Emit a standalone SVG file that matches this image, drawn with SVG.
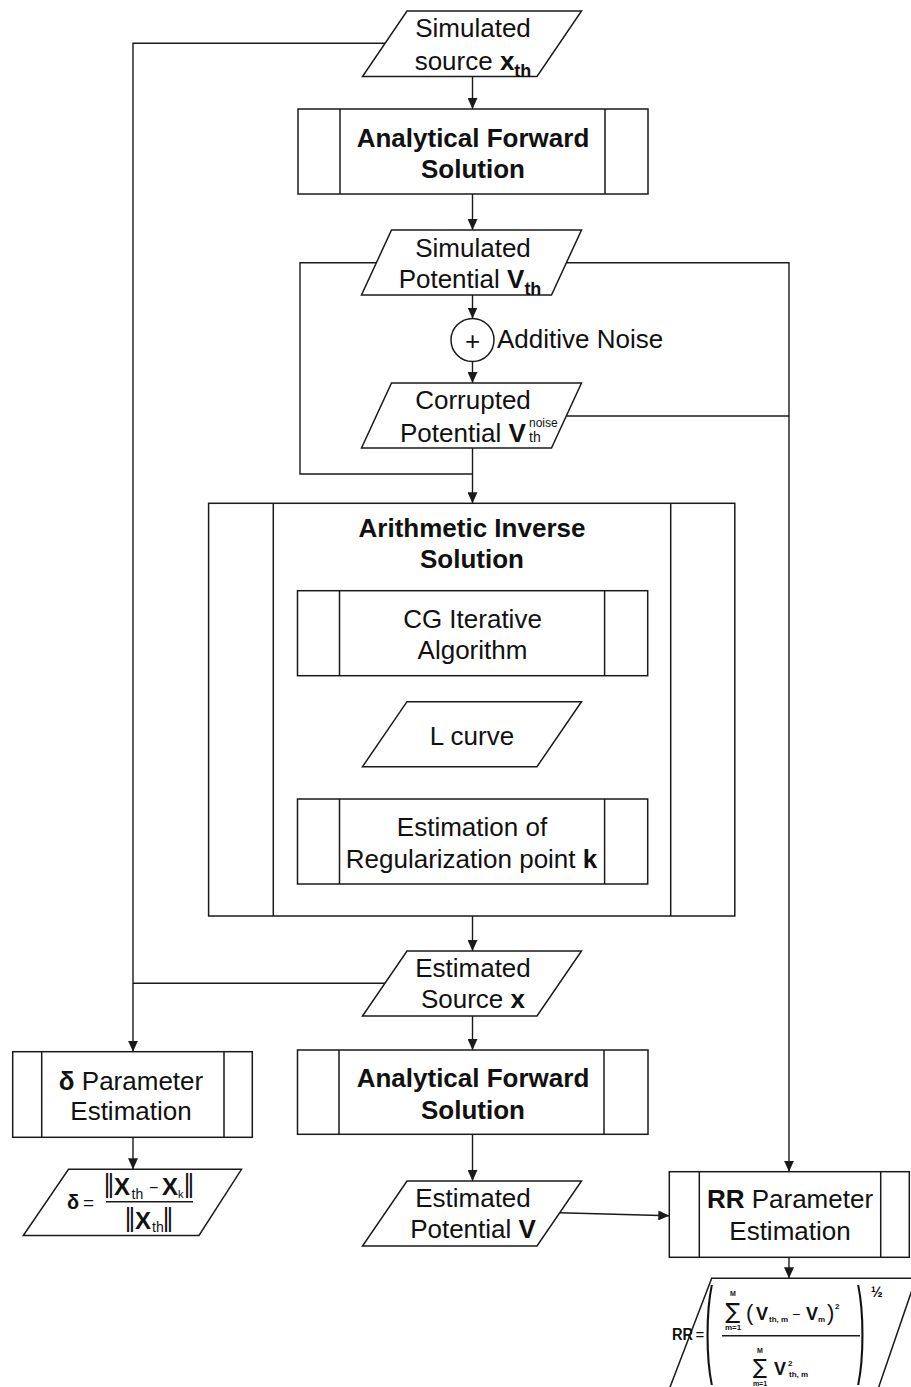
<svg xmlns="http://www.w3.org/2000/svg" width="911" height="1387" viewBox="0 0 911 1387">
  <style>
    .shape{fill:#fff;stroke:#1a1a1a;stroke-width:1.5}
    .div{fill:none;stroke:#1a1a1a;stroke-width:1.5}
    .ln{fill:none;stroke:#1a1a1a;stroke-width:1.4}
    .arr{marker-end:url(#head)}
    .t{font-family:"Liberation Sans",Arial,Helvetica,sans-serif;font-size:26px;fill:#111;text-anchor:middle}
    .b{font-weight:bold}
    .f{font-family:"Liberation Sans",Arial,Helvetica,sans-serif;fill:#111}
    .sym{font-family:"DejaVu Sans","Liberation Sans",sans-serif;fill:#111}
  </style>
  <defs>
    <marker id="head" markerUnits="userSpaceOnUse" markerWidth="11" markerHeight="10" refX="11" refY="5" orient="auto">
      <path d="M0,0 L11,5 L0,10 Z" fill="#1a1a1a"/>
    </marker>
  </defs>
  <rect width="911" height="1387" fill="#fff"/>

  <!-- connectors -->
  <g id="connectors">
    <path class="ln arr" d="M472.5,76.5 V109"/>
    <path class="ln arr" d="M472.5,194 V230"/>
    <path class="ln arr" d="M472.5,295 V318.5"/>
    <path class="ln arr" d="M472.5,361.5 V383"/>
    <path class="ln arr" d="M472.5,448 V503.3"/>
    <path class="ln" d="M376.4,262.7 H300 V474 H472.5"/>
    <path class="ln arr" d="M566.4,262.7 H789 V1171.7"/>
    <path class="ln" d="M566.3,416 H789"/>
    <path class="ln arr" d="M385.1,43.3 H133 V1051.7"/>
    <path class="ln" d="M384.9,983.3 H133"/>
    <path class="ln arr" d="M472.5,675.7 V701.7"/>
    <path class="ln arr" d="M472.5,766.7 V799"/>
    <path class="ln arr" d="M472.5,916 V951"/>
    <path class="ln arr" d="M472.5,1016 V1050"/>
    <path class="ln arr" d="M472.5,1134.3 V1181"/>
    <path class="ln arr" d="M559.8,1212.7 L669.3,1215.7"/>
    <path class="ln arr" d="M133,1137.3 V1169.3"/>
    <path class="ln arr" d="M789,1257.3 V1278.3"/>
  </g>

  <!-- simulated source -->
  <g id="sim-source">
    <polygon class="shape" points="407,11 581.5,11 537,76.5 362.5,76.5"/>
    <text class="t" x="473" y="36.7">Simulated</text>
    <text class="t" x="473" y="70">source <tspan class="b">x</tspan><tspan class="b" font-size="18" dy="7">th</tspan></text>
  </g>

  <!-- forward solution (top) -->
  <g id="forward-1">
    <rect class="shape" x="298" y="109" width="350" height="85"/>
    <path class="div" d="M340,109 V194 M605,109 V194"/>
    <text class="t b" x="473" y="146.7">Analytical Forward</text>
    <text class="t b" x="473" y="178.3">Solution</text>
  </g>

  <!-- simulated potential -->
  <g id="sim-potential">
    <polygon class="shape" points="391.5,230 581.5,230 551.5,295 361.5,295"/>
    <text class="t" x="473" y="257.3">Simulated</text>
    <text class="t" x="470" y="288.3">Potential <tspan class="b">V</tspan><tspan class="b" font-size="18" dy="7">th</tspan></text>
  </g>

  <!-- noise summing junction -->
  <g id="noise">
    <circle class="shape" cx="472.5" cy="340" r="21.5"/>
    <text class="t" x="472.5" y="349.5" font-size="28">+</text>
    <text class="t" x="497" y="348.3" style="text-anchor:start">Additive Noise</text>
  </g>

  <!-- corrupted potential -->
  <g id="corrupted-potential">
    <polygon class="shape" points="391.5,383 581.5,383 551.5,448 361.5,448"/>
    <text class="t" x="473" y="409.3">Corrupted</text>
    <text class="t" x="400" y="441.7" style="text-anchor:start">Potential <tspan class="b">V</tspan></text>
    <text class="f" x="529" y="427" font-size="12">noise</text>
    <text class="f" x="529" y="442" font-size="14">th</text>
  </g>

  <!-- inverse solution block -->
  <g id="inverse-solution">
    <rect class="shape" x="208.6" y="503.3" width="526.2" height="412.7"/>
    <path class="div" d="M273.3,503.3 V916 M670.7,503.3 V916"/>
    <text class="t b" x="472" y="536.7">Arithmetic Inverse</text>
    <text class="t b" x="472" y="568.3">Solution</text>
  </g>

  <g id="cg-algorithm">
    <rect class="shape" x="297.5" y="590.7" width="350.2" height="85"/>
    <path class="div" d="M339.5,590.7 V675.7 M604.6,590.7 V675.7"/>
    <text class="t" x="472.5" y="627.5">CG Iterative</text>
    <text class="t" x="472.5" y="659">Algorithm</text>
  </g>

  <g id="l-curve">
    <polygon class="shape" points="407,701.7 581.5,701.7 537,766.7 362.5,766.7"/>
    <text class="t" x="472" y="744.5">L curve</text>
  </g>

  <g id="reg-point">
    <rect class="shape" x="297.5" y="799" width="350.2" height="85"/>
    <path class="div" d="M339.5,799 V884 M604.6,799 V884"/>
    <text class="t" x="472" y="836">Estimation of</text>
    <text class="t" x="471.5" y="867.5">Regularization point <tspan class="b">k</tspan></text>
  </g>

  <!-- estimated source -->
  <g id="est-source">
    <polygon class="shape" points="407,951 581.5,951 537,1016 362.5,1016"/>
    <text class="t" x="473" y="976.7">Estimated</text>
    <text class="t" x="473" y="1008.3">Source <tspan class="b">x</tspan></text>
  </g>

  <!-- forward solution (bottom) -->
  <g id="forward-2">
    <rect class="shape" x="297.5" y="1050" width="350.5" height="84.3"/>
    <path class="div" d="M339,1050 V1134.3 M604,1050 V1134.3"/>
    <text class="t b" x="473" y="1087">Analytical Forward</text>
    <text class="t b" x="473" y="1118.5">Solution</text>
  </g>

  <!-- delta estimation -->
  <g id="delta-estimation">
    <rect class="shape" x="12.7" y="1051.7" width="239.6" height="85.6"/>
    <path class="div" d="M41.7,1051.7 V1137.3 M224,1051.7 V1137.3"/>
    <text class="t" x="131" y="1090"><tspan class="b">δ</tspan> Parameter</text>
    <text class="t" x="131" y="1120">Estimation</text>
  </g>

  <g id="delta-formula">
    <polygon class="shape" points="68.5,1169.3 241.5,1169.3 199,1235.5 23.3,1235.5"/>
    <text class="f b" x="67" y="1209" font-size="20">δ</text>
    <text class="f" x="83" y="1208.5" font-size="19">=</text>
    <text class="sym" x="103" y="1192" font-size="24">‖</text>
    <text class="f b" x="114" y="1195" font-size="24">X</text>
    <text class="f" x="131.5" y="1199" font-size="14">th</text>
    <text class="f" x="149" y="1193" font-size="16">−</text>
    <text class="f b" x="162" y="1195" font-size="24">X</text>
    <text class="f" x="178" y="1198" font-size="11">k</text>
    <text class="sym" x="183" y="1192" font-size="24">‖</text>
    <line class="div" x1="106" y1="1201.7" x2="193" y2="1201.7"/>
    <text class="sym" x="124" y="1226" font-size="24">‖</text>
    <text class="f b" x="135" y="1229" font-size="24">X</text>
    <text class="f" x="152" y="1232" font-size="14">th</text>
    <text class="sym" x="162" y="1226" font-size="24">‖</text>
  </g>

  <!-- estimated potential -->
  <g id="est-potential">
    <polygon class="shape" points="407,1181 581.5,1181 537,1246 362.5,1246"/>
    <text class="t" x="473" y="1206.7">Estimated</text>
    <text class="t" x="473" y="1238.3">Potential <tspan class="b">V</tspan></text>
  </g>

  <!-- RR estimation -->
  <g id="rr-estimation">
    <rect class="shape" x="669.3" y="1171.7" width="240" height="85.6"/>
    <path class="div" d="M699.3,1171.7 V1257.3 M880.7,1171.7 V1257.3"/>
    <text class="t" x="790" y="1208.3"><tspan class="b">RR</tspan> Parameter</text>
    <text class="t" x="790" y="1240">Estimation</text>
  </g>

  <g id="rr-formula">
    <polygon class="shape" points="711.7,1278.3 916,1278.3 876,1395 667,1395"/>
    <text class="f b" x="672" y="1340" font-size="16" textLength="21" lengthAdjust="spacingAndGlyphs">RR</text>
    <text class="f" x="695.5" y="1340" font-size="15">=</text>
    <text class="f" transform="translate(705 1363) scale(1 4.5)" font-size="24">(</text>
    <text class="f" transform="translate(857 1363) scale(1 4.5)" font-size="24">)</text>
    <text class="f b" x="871" y="1297" font-size="14">½</text>
    <!-- numerator -->
    <text class="sym" x="733" y="1319" font-size="22" text-anchor="middle">∑</text>
    <text class="f b" x="733" y="1296" font-size="7" text-anchor="middle">M</text>
    <text class="f b" x="733" y="1330" font-size="8" text-anchor="middle">m=1</text>
    <text class="f" x="746" y="1320" font-size="22">(</text>
    <text class="f b" x="756" y="1320" font-size="18">V</text>
    <text class="f b" x="769" y="1322" font-size="8">th, m</text>
    <text class="f" x="792" y="1319" font-size="14">−</text>
    <text class="f b" x="806" y="1320" font-size="18">V</text>
    <text class="f b" x="818" y="1322" font-size="8">m</text>
    <text class="f" x="827" y="1320" font-size="22">)</text>
    <text class="f b" x="835" y="1309" font-size="8">2</text>
    <line class="div" x1="722" y1="1335.7" x2="860" y2="1335.7"/>
    <!-- denominator -->
    <text class="sym" x="760" y="1374" font-size="21" text-anchor="middle">∑</text>
    <text class="f b" x="760" y="1353" font-size="7" text-anchor="middle">M</text>
    <text class="f b" x="760" y="1386" font-size="7" text-anchor="middle">m=1</text>
    <text class="f b" x="774" y="1375" font-size="18">V</text>
    <text class="f b" x="788" y="1366" font-size="8">2</text>
    <text class="f b" x="789" y="1377" font-size="8">th, m</text>
  </g>
</svg>
